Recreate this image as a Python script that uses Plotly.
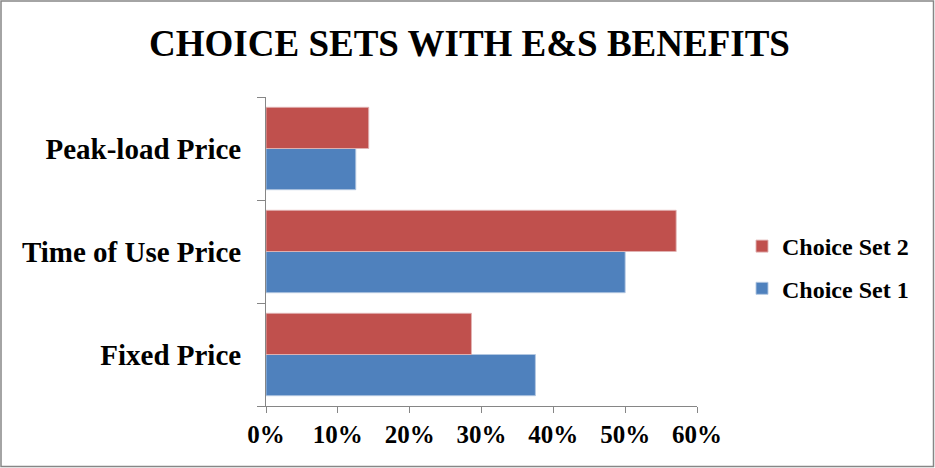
import plotly.graph_objects as go

categories = ["Fixed Price", "Time of Use Price", "Peak-load Price"]
set1_values = [37.5, 50.0, 12.5]
set2_values = [28.6, 57.1, 14.3]
x_ticks = [0, 10, 20, 30, 40, 50, 60]
x_tick_labels = [f"{v}%" for v in x_ticks]

W, H = 935, 468
ML, MR, MT, MB = 266, 238, 97, 62
PW, PH = W - ML - MR, H - MT - MB

def px_x(p):
    return (p - ML) / PW

def px_y(p):
    return (H - MB - p) / PH

FONT = "Liberation Serif, Times New Roman, serif"

fig = go.Figure()
fig.add_trace(go.Bar(
    y=categories, x=set1_values, name="<b>Choice Set 1</b>", orientation="h",
    marker=dict(color="#4F81BD", line=dict(color="rgba(180,200,225,0.9)", width=1)),
    legendgroup="g1", legendrank=2,
))
fig.add_trace(go.Bar(
    y=categories, x=set2_values, name="<b>Choice Set 2</b>", orientation="h",
    marker=dict(color="#C0504D", line=dict(color="rgba(225,180,180,0.9)", width=1)),
    legendgroup="g2", legendrank=1,
))

fig.update_layout(
    width=W, height=H,
    margin=dict(l=ML, r=MR, t=MT, b=MB),
    paper_bgcolor="white", plot_bgcolor="white",
    barmode="group", bargap=0.2, bargroupgap=0,
    font=dict(family=FONT, color="black"),
    title=dict(text="<b>CHOICE SETS WITH E&S BENEFITS</b>",
               font=dict(family=FONT, size=37, color="black"),
               x=469.5 / W, xanchor="center", y=1 - 43 / H, yanchor="middle"),
    legend=dict(x=px_x(742), y=px_y(224), xanchor="left", yanchor="top",
                traceorder="grouped", tracegroupgap=8,
                font=dict(family=FONT, size=24, color="black"),
                bgcolor="rgba(0,0,0,0)"),
    showlegend=True,
)

fig.update_xaxes(
    range=[0, 60], tickvals=x_ticks, ticktext=[f"<b>{t}</b>" for t in x_tick_labels],
    showgrid=False, zeroline=False, showline=True, linecolor="#868686", linewidth=1,
    ticks="outside", ticklen=6, tickcolor="#868686",
    tickfont=dict(family=FONT, size=25, color="black"),
)
fig.update_yaxes(
    categoryorder="array", categoryarray=categories,
    tickvals=categories, ticktext=[f"<b>{c}</b>" for c in categories],
    showgrid=False, zeroline=False, showline=True, linecolor="#868686", linewidth=1,
    ticks="outside", ticklen=8, tickcolor="#868686", tickson="boundaries",
    tickfont=dict(family=FONT, size=29, color="black"),
    ticklabelstandoff=18,
)

fig.add_shape(type="rect", xref="paper", yref="paper",
              x0=px_x(1), x1=px_x(933.5), y0=px_y(1), y1=px_y(466.5),
              line=dict(color="#868686", width=1.5), fillcolor="rgba(0,0,0,0)", layer="below")

fig.write_html("out.html")
